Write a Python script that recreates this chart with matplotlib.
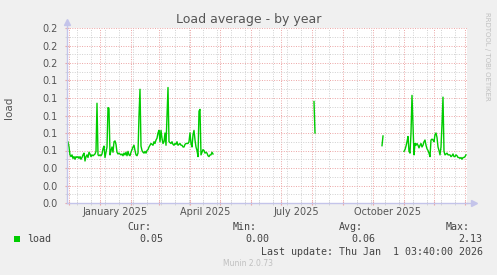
import pandas as pd
import numpy as np
import matplotlib
matplotlib.use("Agg")
import matplotlib.pyplot as plt
import matplotlib.dates as mdates
import matplotlib.transforms as mtransforms
from matplotlib.patches import Rectangle

# --------------------------------------------------------------
# Data (daily averages)
# --------------------------------------------------------------
seg1_start = "2024-11-29"
seg1_load = [
    0.070, 0.070, 0.064, 0.055, 0.053, 0.055, 0.051, 0.053, 0.050, 0.053,
    0.052, 0.053, 0.051, 0.053, 0.050, 0.052, 0.055, 0.057, 0.048, 0.053,
    0.055, 0.052, 0.058, 0.056, 0.053, 0.055, 0.054, 0.055, 0.056, 0.059,
    0.114, 0.055, 0.054, 0.055, 0.054, 0.056, 0.062, 0.065, 0.052, 0.058,
    0.064, 0.109, 0.108, 0.055, 0.060, 0.064, 0.058, 0.070, 0.071, 0.067,
    0.058, 0.056, 0.057, 0.056, 0.055, 0.056, 0.054, 0.057, 0.055, 0.058,
    0.054, 0.059, 0.055, 0.054, 0.058, 0.061, 0.064, 0.066, 0.060, 0.055,
    0.054, 0.057, 0.100, 0.130, 0.065, 0.060, 0.058, 0.057, 0.059, 0.057,
    0.060, 0.061, 0.064, 0.066, 0.068, 0.067, 0.066, 0.070, 0.068, 0.072,
    0.074, 0.080, 0.083, 0.070, 0.083, 0.074, 0.068, 0.070, 0.080, 0.066,
    0.100, 0.132, 0.070, 0.069, 0.068, 0.070, 0.067, 0.066, 0.068, 0.067,
    0.070, 0.066, 0.067, 0.068, 0.066, 0.066, 0.064, 0.064, 0.067, 0.068,
    0.068, 0.068, 0.070, 0.080, 0.068, 0.064, 0.078, 0.083, 0.072, 0.064,
    0.060, 0.053, 0.105, 0.107, 0.055, 0.058, 0.061, 0.060, 0.057, 0.058,
    0.057, 0.054, 0.053, 0.055, 0.055, 0.058, 0.056,
]
seg2_start = "2025-08-03"
seg2_load = [0.116, 0.080]
seg3_start = "2025-10-10"
seg3_load = [0.0655, 0.0766]
seg4_start = "2025-11-01"
seg4_load = [
    0.059, 0.061, 0.065, 0.070, 0.076, 0.059, 0.057, 0.080, 0.123, 0.090,
    0.055, 0.068, 0.066, 0.068, 0.066, 0.063, 0.066, 0.068, 0.064, 0.066,
    0.070, 0.072, 0.066, 0.062, 0.060, 0.057, 0.053, 0.072, 0.073, 0.072,
    0.070, 0.078, 0.080, 0.075, 0.064, 0.060, 0.055, 0.064, 0.090, 0.121,
    0.059, 0.055, 0.056, 0.057, 0.055, 0.055, 0.055, 0.053, 0.054, 0.056,
    0.053, 0.053, 0.055, 0.054, 0.052, 0.052, 0.051, 0.052, 0.050, 0.052,
    0.052, 0.053, 0.055,
]

x_start = "2024-11-29"
x_end = "2026-01-03"
month_labels = ["January 2025", "April 2025", "July 2025", "October 2025"]
month_label_dates = ["2025-01-16", "2025-04-16", "2025-07-16", "2025-10-16"]
y_ticks = [0.00, 0.02, 0.04, 0.06, 0.08, 0.10, 0.12, 0.14, 0.16, 0.18, 0.20]

legend_name = "load"
cur_val, min_val, avg_val, max_val = "0.05", "0.00", "0.06", "2.13"
last_update = "Last update: Thu Jan  1 03:40:00 2026"

# --------------------------------------------------------------
# Build one daily series with gaps
# --------------------------------------------------------------
days = pd.date_range(x_start, x_end, freq="D")
load = pd.Series(np.nan, index=days)
for start, vals in [(seg1_start, seg1_load), (seg2_start, seg2_load),
                    (seg3_start, seg3_load), (seg4_start, seg4_load)]:
    idx = pd.date_range(start, periods=len(vals), freq="D")
    load.loc[idx] = vals

# --------------------------------------------------------------
# Figure
# --------------------------------------------------------------
W, H = 497, 275
bg = "#f0f0f0"
txt = "#555555"
axis_col = "#c4c4ea"
major_col = "#eca4a4"
minor_col = "#d0d0d0"

fig = plt.figure(figsize=(W / 100, H / 100), dpi=100, facecolor=bg)
ax = fig.add_axes([67 / W, 1 - 203 / H, 400 / W, 175 / H])
ax.set_facecolor("white")

ax.plot(load.index, load.values, color="#00cc00", lw=1.0)

ax.set_xlim(pd.Timestamp(x_start), pd.Timestamp(x_end))
ax.set_ylim(0, 0.2)

# grid: red dotted majors, grey dotted minors
ax.xaxis.set_major_locator(mdates.MonthLocator())
ax.xaxis.set_minor_locator(mdates.WeekdayLocator(byweekday=mdates.MO, interval=2))
ax.xaxis.set_major_formatter(plt.NullFormatter())
ax.set_yticks(y_ticks)
ax.set_yticks(np.arange(0.01, 0.2, 0.02), minor=True)
ax.set_yticklabels([f"{v:.1f}" for v in y_ticks])
ax.grid(which="major", color=major_col, ls=(0, (1, 1.5)), lw=0.7)
ax.grid(which="minor", color=minor_col, ls=(0, (1, 1.5)), lw=0.7)
ax.set_axisbelow(True)

ax.tick_params(axis="both", which="major", length=3, direction="inout",
               color=major_col, labelsize=7, labelcolor=txt)
ax.tick_params(axis="both", which="minor", length=3, direction="inout",
               color=minor_col)
ax.tick_params(axis="y", pad=5)

for s in ["top", "right"]:
    ax.spines[s].set_visible(False)
for s in ["left", "bottom"]:
    ax.spines[s].set_color(axis_col)
    ax.spines[s].set_linewidth(1)

# axis arrows
ax.plot([0, 0], [1.0, 1.03], color=axis_col, lw=1, transform=ax.transAxes, clip_on=False)
ax.plot([0], [1.035], marker="^", ms=5, color=axis_col, transform=ax.transAxes, clip_on=False)
ax.plot([1.0, 1.015], [0, 0], color=axis_col, lw=1, transform=ax.transAxes, clip_on=False)
ax.plot([1.018], [0], marker=">", ms=5, color=axis_col, transform=ax.transAxes, clip_on=False)

# month labels centred mid-month
trans = mtransforms.blended_transform_factory(ax.transData, ax.transAxes)
for lab, d in zip(month_labels, month_label_dates):
    ax.text(pd.Timestamp(d), -0.052, lab, transform=trans, ha="center", va="center",
            fontsize=7, color=txt)

# --------------------------------------------------------------
# Titles and legend
# --------------------------------------------------------------
def fx(px):
    return px / W

def fy(py):
    return 1 - py / H

fig.text(fx(248.5), fy(20), "Load average - by year", ha="center", va="center",
         fontsize=9, color=txt)
fig.text(fx(9), fy(108), "load", rotation=90, ha="center", va="center",
         fontsize=7.5, color=txt)
fig.text(fx(487), fy(12), "RRDTOOL / TOBI OETIKER", rotation=270, ha="center", va="top",
         fontsize=5, color="#c0c0c0")

mono = dict(family="DejaVu Sans Mono", fontsize=7.2, color="#444444", va="center")
fig.patches.append(Rectangle((fx(14), fy(242)), 6 / W, 6 / H, transform=fig.transFigure,
                             facecolor="#00cc00", edgecolor="none"))
fig.text(fx(27), fy(239.5), legend_name, ha="left", **mono)
for head, val, xr in [("Cur:", cur_val, 151), ("Min:", min_val, 257),
                      ("Avg:", avg_val, 363), ("Max:", max_val, 470)]:
    fig.text(fx(xr), fy(227), head, ha="right", **mono)
    fig.text(fx(xr + 12.5), fy(239.5), val, ha="right", **mono)
fig.text(fx(483), fy(252), last_update, ha="right", **mono)
fig.text(fx(248), fy(264), "Munin 2.0.73", ha="center", va="center",
         fontsize=5.5, color="#c0c0c0")

fig.savefig("out.png", dpi=100, facecolor=bg)
